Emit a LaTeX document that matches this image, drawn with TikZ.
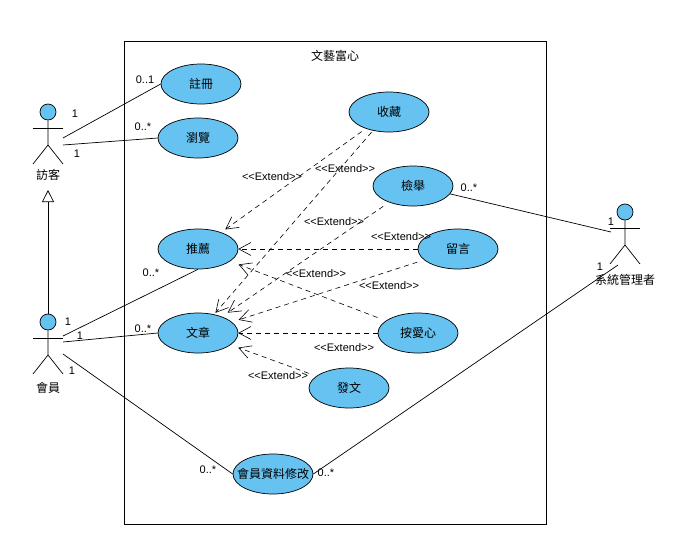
\documentclass[tikz,border=0pt]{standalone}
\usepackage{fontspec}
\setmainfont{Liberation Sans}
\newfontfamily\cjk{Noto Sans CJK TC}
\usetikzlibrary{arrows.meta,shapes.geometric}
\definecolor{ucblue}{RGB}{102,194,240}
\newcommand{\exttext}{<{}<Extend>{}>}
\tikzset{
 usecase/.style={ellipse,draw,fill=ucblue,minimum width=80pt,minimum height=40pt,inner sep=0pt,line width=0.7pt,font=\cjk\fontsize{12}{14}\selectfont},
 head/.style={circle,draw,fill=ucblue,minimum size=16pt,inner sep=0pt,line width=0.7pt},
 cjktext/.style={font=\cjk\fontsize{12}{14}\selectfont,inner sep=0pt},
 smalltext/.style={font=\fontsize{11}{13}\selectfont,inner sep=0pt},
 assoc/.style={line width=0.7pt},
 extendline/.style={dash pattern=on 5pt off 4pt,line width=0.6pt,-{Straight Barb[length=12pt,width=13pt,line width=0.6pt]},shorten <=#1,shorten >=#1},
 extendline/.default=0pt,
 inherit/.style={line width=0.7pt,-{Triangle[open,length=12pt,width=12pt,fill=white]}}
}
\begin{document}
\begin{tikzpicture}[x=1pt,y=-1pt]
\useasboundingbox (0,0) rectangle (681,533);

\node [draw,line width=0.7pt,minimum width=422pt,minimum height=483pt,inner sep=0pt] (system) at (335,282.5) {};
\node [cjktext] (title) at (335,56) {文藝富心};

% use cases
\node [usecase] (zhuce) at (201,84) {註冊};
\node [usecase] (liulan) at (198,138) {瀏覽};
\node [usecase] (shoucang) at (389,112) {收藏};
\node [usecase] (jianju) at (413,186) {檢舉};
\node [usecase] (tuijian) at (198,249) {推薦};
\node [usecase] (liuyan) at (458,249) {留言};
\node [usecase] (wenzhang) at (198,333) {文章};
\node [usecase] (anaixin) at (418,333) {按愛心};
\node [usecase] (fawen) at (349,388) {發文};
\node [usecase,inner xsep=-8pt] (xiugai) at (273,474) {會員資料修改};

% actors
\foreach \name/\x/\y in {fangke/48/112,huiyuan/48/322,guanli/625/212}{
 \node [head] (\name) at (\x,\y) {};
 \draw [assoc] (\name.south) -- (\x,\y+33) -- (\x-15,\y+52);
 \draw [assoc] (\x,\y+33) -- (\x+15,\y+52);
 \draw [assoc] (\x-15,\y+16) -- (\x+15,\y+16);
}
\node [cjktext] (fangkename) at (48,175) {訪客};
\node [cjktext] (huiyuanname) at (48,388) {會員};
\node [cjktext] (guanliname) at (625,280) {系統管理者};

\coordinate (fangkeA) at (63,138);
\coordinate (fangkeB) at (63,145);
\coordinate (huiyuanA) at (63,336);
\coordinate (huiyuanB) at (63,342);
\coordinate (huiyuanC) at (63,354);
\coordinate (guanliA) at (611,232);
\coordinate (guanliB) at (618,265);
\coordinate (fangkefoot) at (48,190);

\draw [inherit] (huiyuan.north) -- (fangkefoot);

\draw [assoc] (fangkeA) -- (zhuce.west);
\draw [assoc] (fangkeB) -- (liulan.west);
\draw [assoc] (huiyuanA) -- (tuijian.south);
\draw [assoc] (huiyuanB) -- (wenzhang.west);
\draw [assoc] (huiyuanC) -- (xiugai.west);
\draw [assoc] (jianju.-12) -- (guanliA);
\draw [assoc] (xiugai.east) -- (guanliB);

\draw [extendline=5pt] (shoucang) -- (tuijian);
\draw [extendline=2pt] (shoucang) -- (wenzhang);
\draw [extendline=7pt] (jianju) -- (wenzhang);
\draw [extendline] (liuyan) -- (tuijian);
\draw [extendline=7pt] (liuyan) -- (wenzhang);
\draw [extendline=9pt] (anaixin) -- (tuijian);
\draw [extendline] (anaixin) -- (wenzhang);
\draw [extendline=8pt] (fawen) -- (wenzhang);

% labels
\foreach \x/\y [count=\i] in {272/177,345/169,334/222,401/237,316/274,389/286,344/348,278/376}
 \node [smalltext] (ext\i) at (\x,\y) {\exttext};

\foreach \x/\y/\t [count=\i] in {75/114/1,77/154/1,145/80/0..1,143/127/0..*,151/273/0..*,68/322/1,80/336/1,143/329/0..*,72/371/1,208/470/0..*,326/473/0..*,469/188/0..*,611/222/1,600/267/1}
 \node [smalltext] (mult\i) at (\x,\y) {\t};

\end{tikzpicture}
\end{document}
